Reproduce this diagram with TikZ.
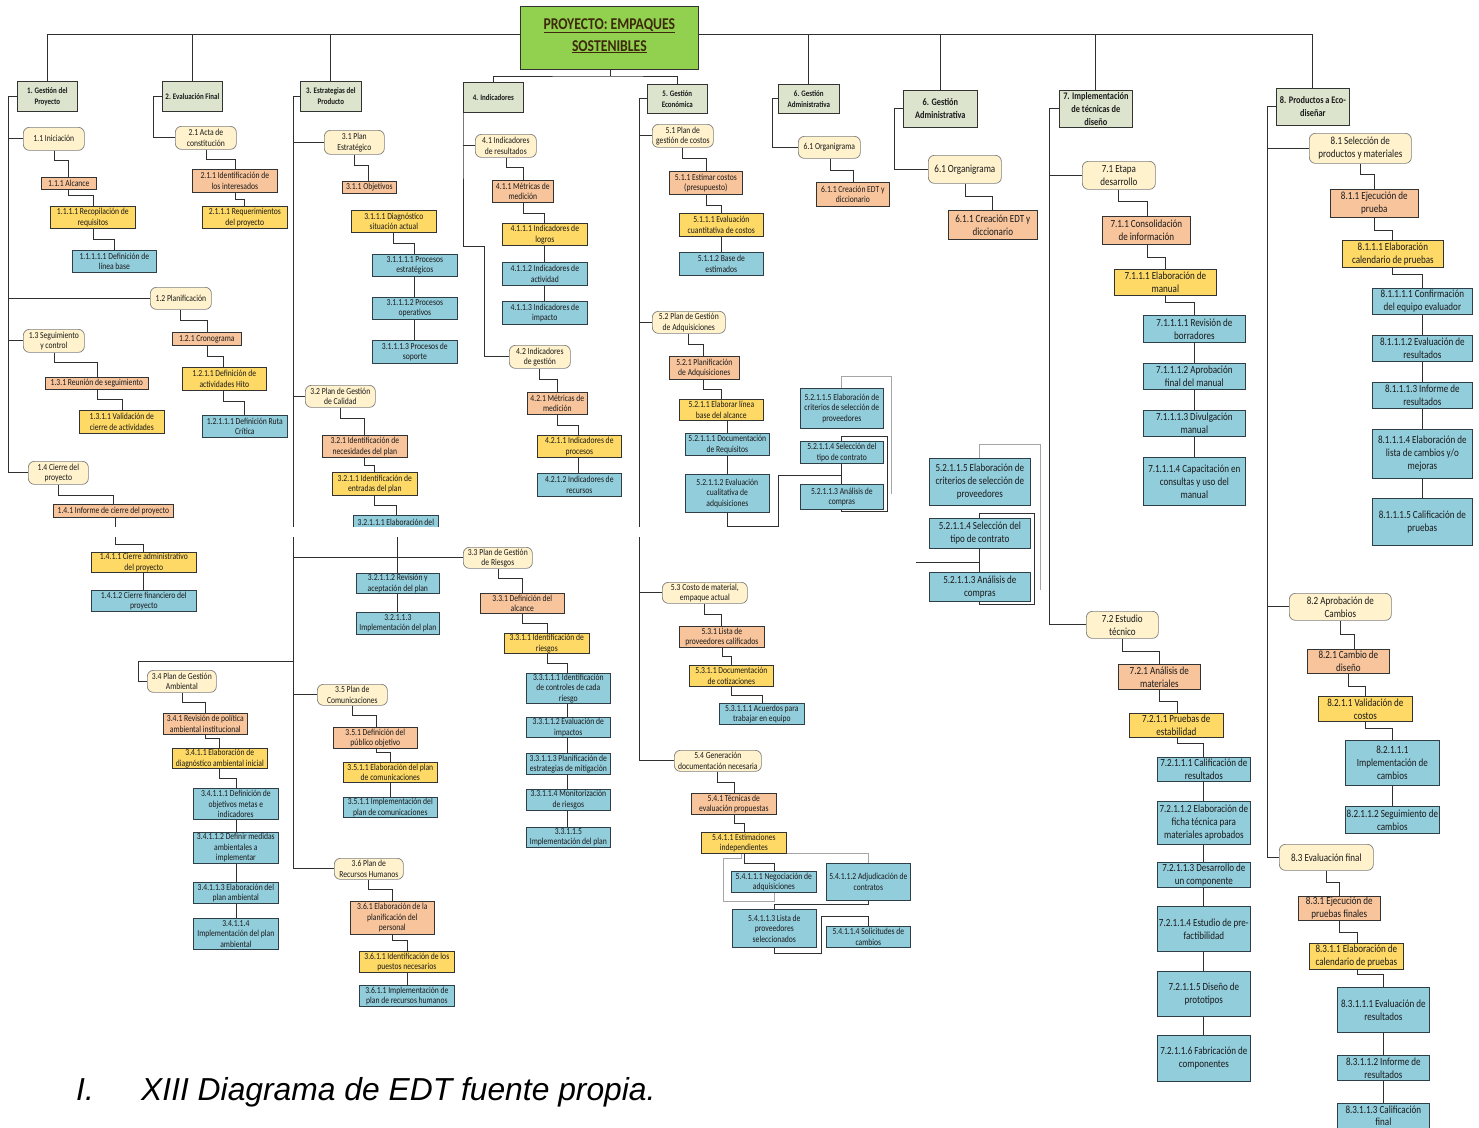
\documentclass[tikz,border=0pt]{standalone}
\usepackage{fontspec}
\setmainfont{Carlito}[FakeStretch=0.83]
\newfontfamily\capfont{Liberation Sans}
\definecolor{cA}{HTML}{DCE4CE}
\definecolor{cB}{HTML}{FFF2CC}
\definecolor{cC}{HTML}{F8C49C}
\definecolor{cD}{HTML}{FFD966}
\definecolor{cE}{HTML}{92CDDC}
\definecolor{cRoot}{HTML}{92D050}
\definecolor{bdr}{HTML}{333333}
\definecolor{bdrB}{HTML}{7F7F7F}
\definecolor{bdrE}{HTML}{2E3F48}
\definecolor{lnc}{HTML}{303030}
\definecolor{lng}{HTML}{A6A6A6}
\definecolor{txt}{HTML}{1A1A1A}
\definecolor{rootTxt}{HTML}{3C2A0A}
% box: name, style, x1, y1, x2, y2, text
\newcommand\bx[7]{\node[#2,anchor=north west,minimum width={#5-#3},minimum height={#6-#4}] (#1) at (#3,#4) {#7};}
% elbow connector: parent, x at parent, middle y, x at child, child
\newcommand\cn[5]{\draw[conn] (#1.south-|#2,0) |- (#4,#3) -- (#5.north-|#4,0);}
% straight vertical connector: upper, lower, x
\newcommand\vc[3]{\draw[conn] (#1.south-|#3,0) -- (#2.north-|#3,0);}
\tikzset{
  box/.style={draw=bdr, line width=0.7pt, inner sep=0.3pt, align=center, text=txt,
    font=\fontsize{9.2}{10.5}\selectfont},
  big/.style={font=\fontsize{10.9}{13}\selectfont},
  L1/.style={box, fill=cA, font=\bfseries\fontsize{8.4}{11}\selectfont},
  L1b/.style={box, fill=cA, font=\bfseries\fontsize{10}{13}\selectfont},
  L2/.style={box, fill=cB, draw=bdrB, rounded corners=6pt},
  L3/.style={box, fill=cC},
  L4/.style={box, fill=cD},
  L5/.style={box, fill=cE, draw=bdrE},
  conn/.style={draw=lnc, line width=0.9pt},
  gconn/.style={draw=lng, line width=0.9pt},
  capt/.style={anchor=base west, inner sep=0pt, text=black, font=\capfont\itshape\fontsize{31.8}{32}\selectfont}
}
\begin{document}
\begin{tikzpicture}[x=1pt,y=-1pt]
\useasboundingbox (0,0) rectangle (1479,1127);
\fill[white] (0,0) rectangle (1479,1127);

% ---------- root and first level ----------
\bx{root}{box,fill=cRoot,text=rootTxt,text depth=6.5pt,font=\bfseries\fontsize{16.5}{22}\selectfont}{520}{6}{698}{69}{\underline{PROYECTO: EMPAQUES}\\\underline{SOSTENIBLES}}
\bx{n1}{L1}{17}{81}{77}{111}{1. Gestión del\\Proyecto}
\bx{n2}{L1}{162}{81}{222}{111}{2. Evaluación Final}
\bx{n3}{L1}{300}{81}{361}{111}{3. Estrategias del\\Producto}
\bx{n4}{L1}{463}{82}{523}{112}{4. Indicadores}
\bx{n5}{L1}{647}{84}{707}{113}{5. Gestión\\Económica}
\bx{n6a}{L1}{778}{84}{839}{113}{6. Gestión\\Administrativa}
\bx{n6b}{L1b}{903}{90}{977}{127}{6. Gestión\\Administrativa}
\bx{n7}{L1b}{1059}{90}{1132}{127}{7. Implementación\\de técnicas de\\diseño}
\bx{n8}{L1b}{1276}{88}{1349}{125}{8. Productos a Eco-\\diseñar}

\coordinate (tl) at (root.west|-0,34);
\coordinate (tr) at (root.east|-0,34);
\draw[conn] (n1.north) |- (tl);
\draw[conn] (n8.north) |- (tr);
\foreach \k in {n2,n3} \draw[conn] (\k.north) -- (\k.north|-tl);
\foreach \k in {n6a,n6b,n7} \draw[conn] (\k.north) -- (\k.north|-tr);
\draw[conn] (root.south-|610,0) -- (610,76);
\draw[conn] (n4.north) |- (610,76) -| (n5.north);

% ---------- 1. Gestión del Proyecto ----------
\bx{n11}{L2}{23}{127}{84}{150}{1.1 Iniciación}
\bx{n111}{L3}{41}{177}{96}{189}{1.1.1 Alcance}
\bx{n1111}{L4}{50}{206}{135}{228}{1.1.1.1 Recopilación de\\requisitos}
\bx{n11111}{L5}{72}{250}{156}{272}{1.1.1.1.1 Definición de\\línea base}
\bx{n12}{L2}{150}{287}{211}{309}{1.2 Planificación}
\bx{n121}{L3}{172}{332}{241}{345}{1.2.1 Cronograma}
\bx{n1211}{L4}{182}{367}{266}{390}{1.2.1.1 Definición de\\actividades Hito}
\bx{n12111}{L5}{202}{415}{287}{437}{1.2.1.1.1 Definición Ruta\\Crítica}
\bx{n13}{L2}{23}{329}{84}{352}{1.3 Seguimiento\\y control}
\bx{n131}{L3}{45}{377}{148}{389}{1.3.1 Reunión de seguimiento}
\bx{n1311}{L4}{79}{410}{164}{433}{1.3.1.1 Validación de\\cierre de actividades}
\bx{n14}{L2}{28}{461}{88}{484}{1.4 Cierre del\\proyecto}
\bx{n141}{L3}{53}{504}{173}{517}{1.4.1 Informe de cierre del proyecto}
\bx{n1411}{L4}{91}{552}{196}{572}{1.4.1.1 Cierre administrativo\\del proyecto}
\bx{n1412}{L5}{91}{590}{196}{611}{1.4.1.2 Cierre financiero del\\proyecto}

\draw[conn] (n1.west) -- (8,0|-n1.west) -- (8,0|-n14.west) -- (n14.west);
\foreach \k in {n11,n12,n13} \draw[conn] (8,0|-\k.west) -- (\k.west);
\cn{n11}{54}{160}{68}{n111}
\cn{n111}{68}{195}{93}{n1111}
\cn{n1111}{93}{239}{114}{n11111}
\cn{n12}{180}{320}{207}{n121}
\cn{n121}{207}{356}{223}{n1211}
\cn{n1211}{223}{401}{244}{n12111}
\cn{n13}{54}{362}{97}{n131}
\cn{n131}{97}{399}{122}{n1311}
\cn{n14}{58}{495}{113}{n141}
\cn{n141}{115}{544}{143}{n1411}
\vc{n1411}{n1412}{143}

% ---------- 2. Evaluación Final ----------
\bx{n21}{L2}{175}{126}{236}{149}{2.1 Acta de\\constitución}
\bx{n211}{L3}{192}{169}{277}{192}{2.1.1 Identificación de\\los interesados}
\bx{n2111}{L4}{202}{206}{287}{228}{2.1.1.1 Requerimientos\\del proyecto}
\draw[conn] (n2.west) -- (153,0|-n2.west) |- (n21.west);
\cn{n21}{206}{159}{235}{n211}
\cn{n211}{235}{199}{244}{n2111}

% ---------- 3. Estrategias del Producto ----------
\bx{n31}{L2}{324}{130}{384}{154}{3.1 Plan\\Estratégico}
\bx{n311}{L3}{342}{181}{396}{193}{3.1.1 Objetivos}
\bx{n3111}{L4}{351}{210}{436}{232}{3.1.1.1 Diagnóstico\\situación actual}
\bx{n31111}{L5}{372}{254}{457}{276}{3.1.1.1.1 Procesos\\estratégicos}
\bx{n31112}{L5}{372}{297}{457}{319}{3.1.1.1.2 Procesos\\operativos}
\bx{n31113}{L5}{372}{340}{457}{363}{3.1.1.1.3 Procesos de\\soporte}
\bx{n32}{L2}{305}{385}{375}{407}{3.2 Plan de Gestión\\de Calidad}
\bx{n321}{L3}{322}{435}{407}{457}{3.2.1 Identificación de\\necesidades del plan}
\bx{n3211}{L4}{332}{472}{417}{495}{3.2.1.1 Identificación de\\entradas del plan}
\bx{n32111}{L5,text depth=6pt}{353}{515}{438}{534}{3.2.1.1.1 Elaboración del}
\bx{n32112}{L5}{356}{573}{439}{593}{3.2.1.1.2 Revisión y\\aceptación del plan}
\bx{n32113}{L5}{356}{612}{439}{634}{3.2.1.1.3\\Implementación del plan}
\bx{n33}{L2}{463}{547}{532}{568}{3.3 Plan de Gestión\\de Riesgos}
\bx{n331}{L3}{480}{593}{564}{613}{3.3.1 Definición del\\alcance}
\bx{n3311}{L4}{504}{633}{589}{653}{3.3.1.1 Identificación de\\riesgos}
\bx{n33111}{L5}{526}{673}{610}{703}{3.3.1.1.1 Identificación\\de controles de cada\\riesgo}
\bx{n33112}{L5}{526}{717}{610}{737}{3.3.1.1.2 Evaluación de\\impactos}
\bx{n33113}{L5}{526}{753}{610}{774}{3.3.1.1.3 Planificación de\\estrategias de mitigación}
\bx{n33114}{L5}{526}{789}{610}{810}{3.3.1.1.4 Monitorización\\de riesgos}
\bx{n33115}{L5}{526}{827}{610}{847}{3.3.1.1.5\\Implementación del plan}
\bx{n34}{L2}{147}{670}{216}{692}{3.4 Plan de Gestión\\Ambiental}
\bx{n341}{L3}{163}{713}{247}{734}{3.4.1 Revisión de política\\ambiental institucional}
\bx{n3411}{L4}{172}{748}{267}{768}{3.4.1.1 Elaboración de\\diagnóstico ambiental inicial}
\bx{n34111}{L5}{193}{788}{278}{819}{3.4.1.1.1 Definición de\\objetivos metas e\\indicadores}
\bx{n34112}{L5}{193}{832}{278}{863}{3.4.1.1.2 Definir medidas\\ambientales a\\implementar}
\bx{n34113}{L5}{193}{882}{278}{903}{3.4.1.1.3 Elaboración del\\plan ambiental}
\bx{n34114}{L5}{193}{918}{278}{949}{3.4.1.1.4\\Implementación del plan\\ambiental}
\bx{n35}{L2}{317}{684}{387}{705}{3.5 Plan de\\Comunicaciones}
\bx{n351}{L3}{333}{727}{417}{748}{3.5.1 Definición del\\público objetivo}
\bx{n3511}{L4}{343}{762}{437}{782}{3.5.1.1 Elaboración del plan\\de comunicaciones}
\bx{n3511b}{L5}{343}{797}{437}{817}{3.5.1.1 Implementación del\\plan de comunicaciones}
\bx{n36}{L2}{334}{858}{403}{879}{3.6 Plan de\\Recursos Humanos}
\bx{n361}{L3}{350}{901}{434}{934}{3.6.1 Elaboración de la\\planificación del\\personal}
\bx{n3611}{L4}{359}{951}{454}{972}{3.6.1.1 Identificación de los\\puestos necesarios}
\bx{n3611b}{L5}{359}{985}{454}{1006}{3.6.1.1 Implementación de\\plan de recursos humanos}

\draw[conn] (n3.west) -- (293,0|-n3.west) -- (293,0|-n36.west) -- (n36.west);
\foreach \k in {n31,n32,n33,n35} \draw[conn] (293,0|-\k.west) -- (\k.west);
\draw[conn] (n34.west) -| (138,661) -- (293,661);
\cn{n31}{354}{165}{368}{n311}
\cn{n3111}{393}{243}{414}{n31111}
\vc{n31111}{n31112}{414}
\vc{n31112}{n31113}{414}
\cn{n32}{340}{418}{364}{n321}
\cn{n321}{364}{465}{374}{n3211}
\cn{n3211}{374}{505}{396}{n32111}
\vc{n32111}{n32112}{397}
\vc{n32112}{n32113}{397}
\cn{n33}{498}{578}{522}{n331}
\cn{n331}{522}{623}{547}{n3311}
\cn{n3311}{547}{663}{567}{n33111}
\vc{n33111}{n33112}{567}
\vc{n33112}{n33113}{567}
\vc{n33113}{n33114}{567}
\vc{n33114}{n33115}{567}
\cn{n34}{182}{702}{205}{n341}
\cn{n341}{205}{738}{219}{n3411}
\cn{n3411}{219}{778}{236}{n34111}
\vc{n34111}{n34112}{236}
\vc{n34112}{n34113}{236}
\vc{n34113}{n34114}{236}
\cn{n35}{352}{715}{376}{n351}
\cn{n351}{376}{752}{390}{n3511}
\vc{n3511}{n3511b}{390}
\cn{n36}{368}{889}{392}{n361}
\cn{n361}{392}{940}{407}{n3611}
\vc{n3611}{n3611b}{407}

% ---------- 4. Indicadores ----------
\bx{n41}{L2}{475}{134}{536}{157}{4.1 Indicadores\\de resultados}
\bx{n411}{L3}{492}{180}{553}{202}{4.1.1 Métricas de\\medición}
\bx{n4111}{L4}{502}{223}{587}{245}{4.1.1.1 Indicadores de\\logros}
\bx{n4112}{L5}{502}{262}{587}{285}{4.1.1.2 Indicadores de\\actividad}
\bx{n4113}{L5}{502}{301}{587}{324}{4.1.1.3 Indicadores de\\impacto}
\bx{n42}{L2}{509}{345}{570}{368}{4.2 Indicadores\\de gestión}
\bx{n421}{L3}{527}{392}{587}{414}{4.2.1 Métricas de\\medición}
\bx{n4211}{L4}{537}{435}{621}{457}{4.2.1.1 Indicadores de\\procesos}
\bx{n4212}{L5}{537}{473}{621}{496}{4.2.1.2 Indicadores de\\recursos}

\draw[conn] (n4.west) -- (n4.south west) |- (484,246) |- (n42.west);
\draw[conn] (463,0|-n41.west) -- (n41.west);
\cn{n41}{506}{167}{523}{n411}
\cn{n411}{523}{213}{544}{n4111}
\vc{n4111}{n4112}{544}
\vc{n4112}{n4113}{544}
\cn{n42}{539}{379}{557}{n421}
\cn{n421}{557}{425}{578}{n4211}
\vc{n4211}{n4212}{578}

% ---------- 5. Gestión Económica ----------
\bx{n51}{L2}{652}{124}{713}{147}{5.1 Plan de\\gestión de costos}
\bx{n511}{L3}{669}{171}{742}{194}{5.1.1 Estimar costos\\(presupuesto)}
\bx{n5111}{L4}{679}{213}{763}{236}{5.1.1.1 Evaluación\\cuantitativa de costos}
\bx{n5112}{L5}{679}{252}{763}{275}{5.1.1.2 Base de\\estimados}
\bx{n52}{L2}{652}{311}{725}{333}{5.2 Plan de Gestión\\de Adquisiciones}
\bx{n521}{L3}{669}{356}{739}{379}{5.2.1 Planificación\\de Adquisiciones}
\bx{n5211}{L4}{679}{399}{763}{420}{5.2.1.1 Elaborar línea\\base del alcance}
\bx{n52111}{L5}{685}{433}{769}{455}{5.2.1.1.1 Documentación\\de Requisitos}
\bx{n52112}{L5}{685}{474}{769}{512}{5.2.1.1.2 Evaluación\\cualitativa de\\adquisiciones}
\bx{n52115}{L5}{800}{388}{883}{428}{5.2.1.1.5 Elaboración de\\criterios de selección de\\proveedores}
\bx{n52114}{L5}{800}{441}{883}{463}{5.2.1.1.4 Selección del\\tipo de contrato}
\bx{n52113}{L5}{800}{484}{883}{509}{5.2.1.1.3 Análisis de\\compras}
\bx{n53}{L2}{662}{582}{747}{603}{5.3 Costo de material,\\empaque actual}
\bx{n531}{L3}{679}{626}{764}{647}{5.3.1 Lista de\\proveedores calificados}
\bx{n5311}{L4}{689}{665}{773}{686}{5.3.1.1 Documentación\\de cotizaciones}
\bx{n53111}{L5}{719}{703}{804}{724}{5.3.1.1.1 Acuerdos para\\trabajar en equipo}
\bx{n54}{L2}{674}{750}{761}{771}{5.4 Generación\\documentación necesaria}
\bx{n541}{L3}{691}{793}{776}{814}{5.4.1 Técnicas de\\evaluación propuestas}
\bx{n5411}{L4}{701}{832}{786}{853}{5.4.1.1 Estimaciones\\independientes}
\bx{n54111}{L5}{731}{871}{816}{892}{5.4.1.1.1 Negociación de\\adquisiciones}
\bx{n54112}{L5}{826}{863}{910}{900}{5.4.1.1.2 Adjudicación de\\contratos}
\bx{n54113}{L5}{732}{909}{816}{947}{5.4.1.1.3 Lista de\\proveedores\\seleccionados}
\bx{n54114}{L5}{826}{926}{910}{947}{5.4.1.1.4 Solicitudes de\\cambios}

\draw[conn] (n5.west) -- (639,0|-n5.west) -- (639,0|-n54.west) -- (n54.west);
\foreach \k in {n51,n52,n53} \draw[conn] (639,0|-\k.west) -- (\k.west);
\cn{n51}{682}{158}{706}{n511}
\cn{n511}{706}{205}{721}{n5111}
\vc{n5111}{n5112}{721}
\cn{n52}{688}{344}{703}{n521}
\cn{n521}{703}{389}{721}{n5211}
\vc{n5211}{n52111}{727}
\vc{n52111}{n52112}{727}
\draw[conn] (n52112.south-|727,0) -- (727,526) -- (778,526) -- (778,475) -- (n52114.south|-0,475);
\vc{n52114}{n52113}{841.5}
\draw[conn] (n52114.north) |- (887,436) -- (887,511) -| (n52113.south);
\draw[gconn] (n52115.north) |- (891,376) -- (891,494);
\cn{n53}{704}{614}{721}{n531}
\cn{n531}{722}{656}{731}{n5311}
\cn{n5311}{731}{695}{762}{n53111}
\cn{n54}{717}{782}{734}{n541}
\cn{n541}{734}{823}{744}{n5411}
\cn{n5411}{744}{863}{774}{n54111}
\draw[gconn] (n5411.south east) -- (n54112.north|-n5411.south east) -- (n54112.north);
\draw[gconn] (n54111.south-|774,0) -- (774,901) -- (723,901) -- (723,858) -- (741,858) -- (n5411.south-|741,0);
\draw[conn] (n54112.south) |- (774,904) -- (n54113.north-|774,0);
\draw[conn] (n54113.south-|774,0) -- (774,953) -- (821,953) -- (821,916) -| (n54114.north);

% ---------- 6. Gestión Administrativa ----------
\bx{n61a}{L2}{798}{136}{860}{158}{6.1 Organigrama}
\bx{n611a}{L3}{816}{182}{889}{206}{6.1.1 Creación EDT y\\diccionario}
\draw[conn] (n6a.west) -- (772,0|-n6a.west) |- (n61a.west);
\cn{n61a}{830}{170}{853}{n611a}

\bx{n61b}{L2,big}{928}{155}{1001}{183}{6.1 Organigrama}
\bx{n611b}{L3,big}{948}{210}{1037}{239}{6.1.1 Creación EDT y\\diccionario}
\draw[conn] (n6b.west) -- (894,0|-n6b.west) |- (n61b.west);
\cn{n61b}{965}{196}{992}{n611b}

\bx{n52115b}{L5,big}{929}{458}{1030}{505}{5.2.1.1.5 Elaboración de\\criterios de selección de\\proveedores}
\bx{n52114b}{L5,big}{929}{518}{1030}{548}{5.2.1.1.4 Selección del\\tipo de contrato}
\bx{n52113b}{L5,big}{929}{572}{1030}{601}{5.2.1.1.3 Análisis de\\compras}
\coordinate (lf) at (916,562);
\draw[gconn] (n52115b.north) |- (1040,444) -- (1040,590);
\draw[conn] (n52114b.north) |- (1034,513) -- (1034,604) -| (n52113b.south);
\draw[conn] (n52114b.south) -- (n52113b.north);
\draw[conn] (lf) -- (n52114b.south|-lf);

% ---------- 7. Implementación de técnicas de diseño ----------
\bx{n71}{L2,big}{1082}{161}{1155}{189}{7.1 Etapa\\desarrollo}
\bx{n711}{L3,big}{1102}{216}{1190}{244}{7.1.1 Consolidación\\de información}
\bx{n7111}{L4,big}{1114}{269}{1216}{295}{7.1.1.1 Elaboración de\\manual}
\bx{n71111}{L5,big}{1143}{315}{1245}{342}{7.1.1.1.1 Revisión de\\borradores}
\bx{n71112}{L5,big}{1143}{363}{1245}{389}{7.1.1.1.2 Aprobación\\final del manual}
\bx{n71113}{L5,big}{1143}{410}{1245}{436}{7.1.1.1.3 Divulgación\\manual}
\bx{n71114}{L5,big}{1143}{457}{1245}{505}{7.1.1.1.4 Capacitación en\\consultas y uso del\\manual}
\bx{n72}{L2,big}{1086}{611}{1158}{638}{7.2 Estudio\\técnico}
\bx{n721}{L3,big}{1118}{664}{1200}{689}{7.2.1 Análisis de\\materiales}
\bx{n7211}{L4,big}{1129}{713}{1223}{737}{7.2.1.1 Pruebas de\\estabilidad}
\bx{n72111}{L5,big}{1157}{757}{1250}{781}{7.2.1.1.1 Calificación de\\resultados}
\bx{n72112}{L5,big}{1157}{801}{1250}{844}{7.2.1.1.2 Elaboración de\\ficha técnica para\\materiales aprobados}
\bx{n72113}{L5,big}{1157}{862}{1250}{887}{7.2.1.1.3 Desarrollo de\\un componente}
\bx{n72114}{L5,big}{1157}{906}{1250}{951}{7.2.1.1.4 Estudio de pre-\\factibilidad}
\bx{n72115}{L5,big}{1157}{971}{1250}{1016}{7.2.1.1.5 Diseño de\\prototipos}
\bx{n72116}{L5,big}{1157}{1035}{1250}{1081}{7.2.1.1.6 Fabricación de\\componentes}

\draw[conn] (n7.west) -- (1049,0|-n7.west) -- (1049,0|-n72.west) -- (n72.west);
\draw[conn] (1049,0|-n71.west) -- (n71.west);
\cn{n71}{1118}{201}{1147}{n711}
\cn{n711}{1147}{257}{1165}{n7111}
\cn{n7111}{1165}{302}{1194}{n71111}
\vc{n71111}{n71112}{1194}
\vc{n71112}{n71113}{1194}
\vc{n71113}{n71114}{1194}
\cn{n72}{1122}{651}{1159}{n721}
\cn{n721}{1159}{701}{1177}{n7211}
\cn{n7211}{1177}{743}{1203}{n72111}
\vc{n72111}{n72112}{1203}
\vc{n72112}{n72113}{1203}
\vc{n72113}{n72114}{1203}
\vc{n72114}{n72115}{1203}
\vc{n72115}{n72116}{1203}

% ---------- 8. Productos a Eco-diseñar ----------
\bx{n81}{L2,big}{1309}{133}{1411}{163}{8.1 Selección de\\productos y materiales}
\bx{n811}{L3,big}{1330}{189}{1418}{217}{8.1.1 Ejecución de\\prueba}
\bx{n8111}{L4,big}{1342}{240}{1443}{267}{8.1.1.1 Elaboración\\calendario de pruebas}
\bx{n81111}{L5,big}{1372}{288}{1472}{314}{8.1.1.1.1 Confirmación\\del equipo evaluador}
\bx{n81112}{L5,big}{1372}{335}{1472}{361}{8.1.1.1.2 Evaluación de\\resultados}
\bx{n81113}{L5,big}{1372}{382}{1472}{408}{8.1.1.1.3 Informe de\\resultados}
\bx{n81114}{L5,big}{1372}{429}{1472}{478}{8.1.1.1.4 Elaboración de\\lista de cambios y/o\\mejoras}
\bx{n81115}{L5,big}{1372}{498}{1472}{545}{8.1.1.1.5 Calificación de\\pruebas}
\bx{n82}{L2,big}{1289}{593}{1391}{620}{8.2 Aprobación de\\Cambios}
\bx{n821}{L3,big}{1307}{649}{1389}{673}{8.2.1 Cambio de\\diseño}
\bx{n8211}{L4,big}{1318}{696}{1412}{721}{8.2.1.1 Validación de\\costos}
\bx{n82111}{L5,big}{1345}{740}{1439}{785}{8.2.1.1.1\\Implementación de\\cambios}
\bx{n82112}{L5,big}{1345}{806}{1439}{833}{8.2.1.1.2 Seguimiento de\\cambios}
\bx{n83}{L2,big}{1279}{844}{1373}{870}{8.3 Evaluación final}
\bx{n831}{L3,big}{1298}{896}{1380}{920}{8.3.1 Ejecución de\\pruebas finales}
\bx{n8311}{L4,big}{1309}{943}{1403}{969}{8.3.1.1 Elaboración de\\calendario de pruebas}
\bx{n83111}{L5,big}{1337}{987}{1429}{1032}{8.3.1.1.1 Evaluación de\\resultados}
\bx{n83112}{L5,big}{1337}{1055}{1429}{1080}{8.3.1.1.2 Informe de\\resultados}
\bx{n83113}{L5,font=\fontsize{10.9}{11.5}\selectfont,inner ysep=0pt}{1337}{1103}{1429}{1128}{8.3.1.1.3 Calificación\\final}

\draw[conn] (n8.west) -- (1267,0|-n8.west) -- (1267,0|-n83.west) -- (n83.west);
\foreach \k in {n81,n82} \draw[conn] (1267,0|-\k.west) -- (\k.west);
\cn{n81}{1360}{174}{1374}{n811}
\cn{n811}{1374}{230}{1392}{n8111}
\cn{n8111}{1392}{274}{1422}{n81111}
\vc{n81111}{n81112}{1422}
\vc{n81112}{n81113}{1422}
\vc{n81113}{n81114}{1422}
\vc{n81114}{n81115}{1422}
\cn{n82}{1340}{634}{1354}{n821}
\cn{n821}{1348}{686}{1365}{n8211}
\cn{n8211}{1365}{728}{1392}{n82111}
\vc{n82111}{n82112}{1392}
\cn{n83}{1326}{882}{1339}{n831}
\cn{n831}{1339}{932}{1357}{n8311}
\cn{n8311}{1357}{974}{1383}{n83111}
\vc{n83111}{n83112}{1383}
\vc{n83112}{n83113}{1383}

% seam between the upper and lower halves of the sheet
\fill[white] (0,527) rectangle (646,537);

% ---------- caption ----------
\node[capt] (capI) at (76,1100) {I.};
\node[capt] (capT) at (141,1100) {XIII Diagrama de EDT fuente propia.};
\end{tikzpicture}
\end{document}
